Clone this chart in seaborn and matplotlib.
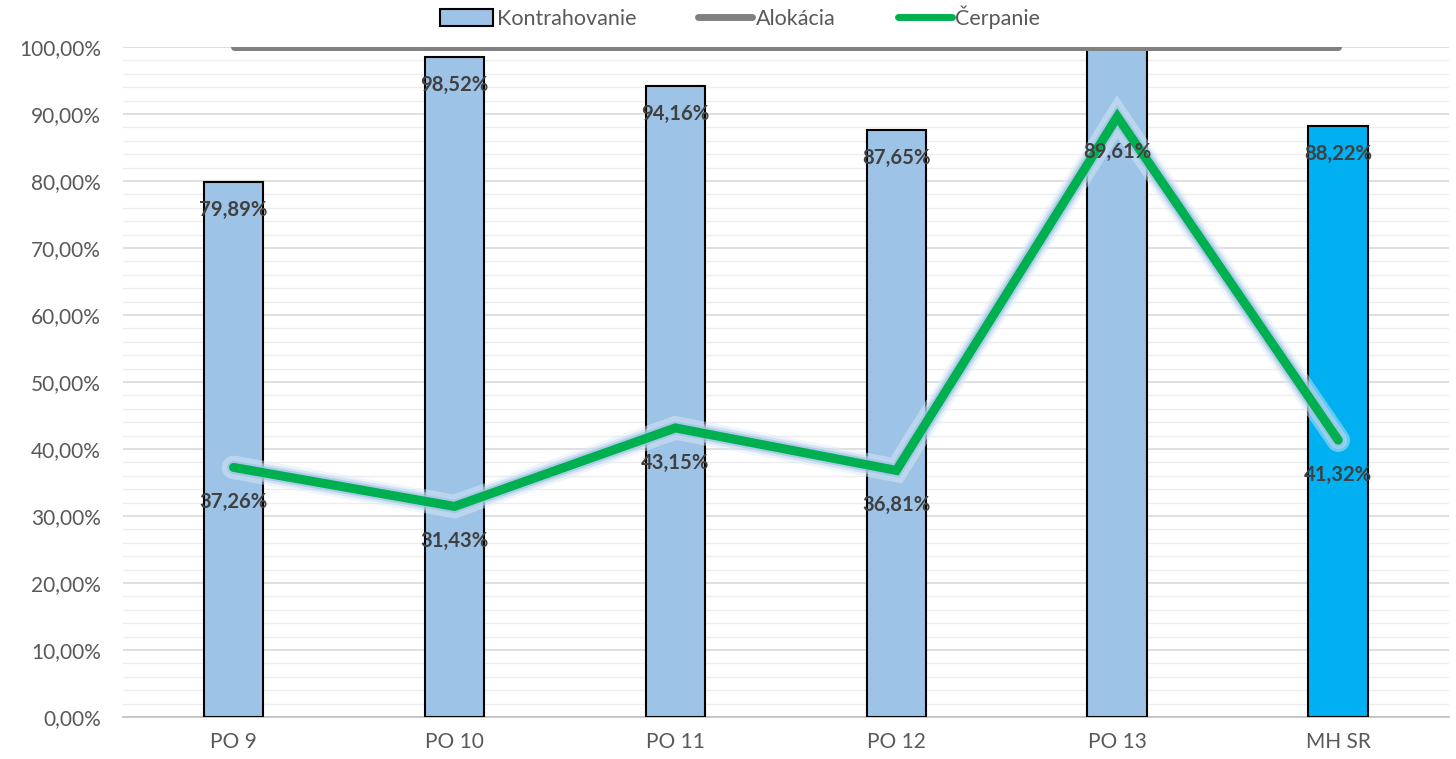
import matplotlib
matplotlib.use("Agg")
import matplotlib.pyplot as plt
import matplotlib.patheffects as pe
from matplotlib.ticker import MultipleLocator, FuncFormatter
from matplotlib.patches import Patch
from matplotlib.lines import Line2D
import seaborn as sns
import pandas as pd

categories = ["PO 9", "PO 10", "PO 11", "PO 12", "PO 13", "MH SR"]
kontrahovanie = [79.89, 98.52, 94.16, 87.65, 104.0, 88.22]
alokacia = [100, 100, 100, 100, 100, 100]
cerpanie = [37.26, 31.43, 43.15, 36.81, 89.61, 41.32]
bar_colors = ["#9DC3E6", "#9DC3E6", "#9DC3E6", "#9DC3E6", "#9DC3E6", "#00B0F0"]

sns.set_theme(style="white")
plt.rcParams["font.family"] = ["Lato", "DejaVu Sans"]

fig = plt.figure(figsize=(14.56, 7.59), dpi=100)
ax = fig.add_axes([0.0845, 0.0553, 0.9105, 0.8827])

df = pd.DataFrame({"cat": categories, "k": kontrahovanie, "c": cerpanie, "a": alokacia})
df["pos"] = range(len(categories))

sns.barplot(data=df, x="cat", y="k", hue="cat", palette=bar_colors, legend=False,
            saturation=1, width=0.27, edgecolor="black", linewidth=1.5, ax=ax, zorder=3)

sns.lineplot(x=df["pos"], y=df["a"], color="#808080", linewidth=5, ax=ax, zorder=4,
             solid_capstyle="round")
sns.lineplot(x=df["pos"], y=df["c"], color="#00B050", linewidth=6.5, ax=ax, zorder=5,
             solid_joinstyle="miter",
             path_effects=[pe.Stroke(linewidth=17, foreground="#DEEBF7", alpha=0.45),
                           pe.Stroke(linewidth=13, foreground="#BDD7EE", alpha=0.55),
                           pe.Stroke(linewidth=9.5, foreground="#9DC3E6", alpha=0.7),
                           pe.Normal()])

ax.set_ylim(0, 100)
ax.set_xlim(-0.5, 5.5)
ax.yaxis.set_major_locator(MultipleLocator(10))
ax.yaxis.set_minor_locator(MultipleLocator(2))
ax.yaxis.set_major_formatter(FuncFormatter(lambda v, p: f"{v:.2f}%".replace(".", ",")))
ax.grid(axis="y", which="major", color="#D9D9D9", linewidth=1.2, zorder=0)
ax.grid(axis="y", which="minor", color="#EDEDED", linewidth=1.0, zorder=0)
ax.set_axisbelow(True)
for s in ["top", "right", "left"]:
    ax.spines[s].set_visible(False)
ax.spines["bottom"].set_color("#BFBFBF")
ax.spines["bottom"].set_linewidth(1.2)
ax.set_xlabel("")
ax.set_ylabel("")
ax.tick_params(axis="y", which="both", length=0, labelsize=15, labelcolor="#595959", pad=16)
ax.set_xticks(range(len(categories)))
ax.set_xticklabels(categories)
ax.tick_params(axis="x", which="major", length=0, labelsize=15, labelcolor="#595959", pad=11)
ax.set_xticks([i - 0.5 for i in range(len(categories) + 1)], minor=True)
ax.tick_params(axis="x", which="minor", length=6, color="#BFBFBF", width=1.2, direction="out")

lab_kw = dict(ha="center", va="center", fontsize=14.6, fontweight="bold", color="#404040", zorder=6)
for i, v in enumerate(kontrahovanie):
    if v <= 100:
        ax.text(i, v - 4.2, f"{v:.2f}%".replace(".", ","), **lab_kw)
for i, v in enumerate(cerpanie):
    ax.text(i, v - 5.2, f"{v:.2f}%".replace(".", ","), **lab_kw)

handles = [Patch(facecolor="#9DC3E6", edgecolor="black", linewidth=1.5, label="Kontrahovanie"),
           Line2D([0], [0], color="#808080", linewidth=5, solid_capstyle="round", label="Alokácia"),
           Line2D([0], [0], color="#00B050", linewidth=5, solid_capstyle="round", label="Čerpanie")]
fig.legend(handles=handles, loc="upper center", bbox_to_anchor=(0.508, 1.018), ncol=3,
           frameon=False, fontsize=15.5, labelcolor="#595959", handlelength=2.5,
           handleheight=0.8, handletextpad=0.15, columnspacing=2.9)

fig.savefig("out.png", dpi=100)
